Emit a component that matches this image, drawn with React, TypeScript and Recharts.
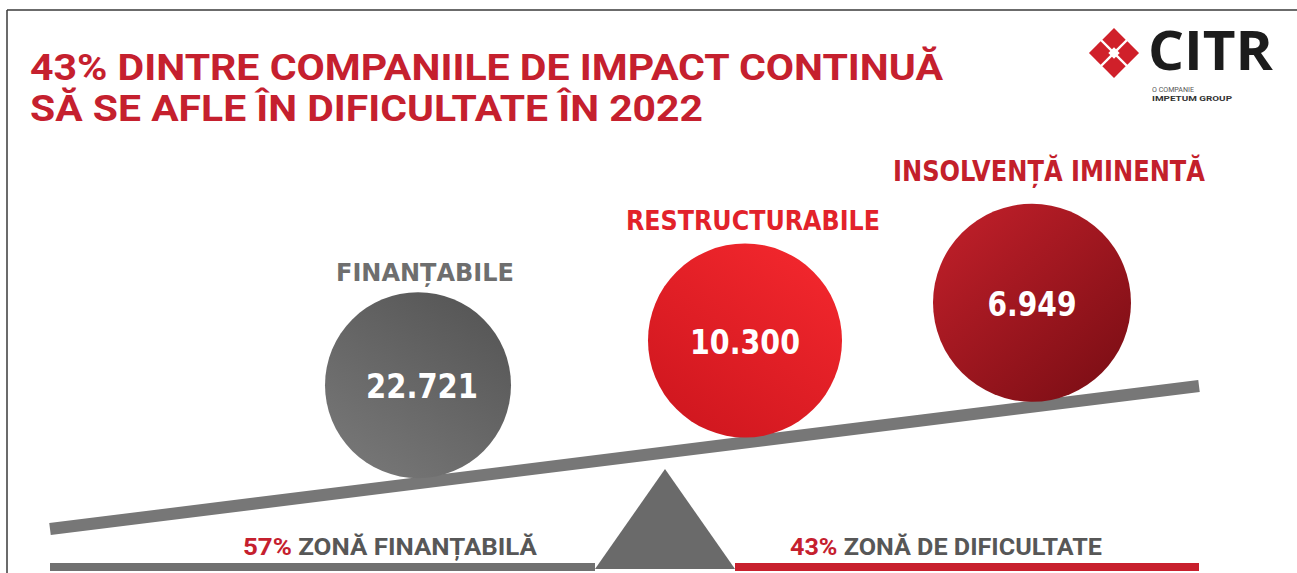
import React from 'react';
import { ComposedChart, XAxis, YAxis, Scatter, ReferenceLine } from 'recharts';

// ---------- data ----------
const TITLE_LINES = ['43% DINTRE COMPANIILE DE IMPACT CONTINUĂ', 'SĂ SE AFLE ÎN DIFICULTATE ÎN 2022'];
const categories = ['FINANȚABILE', 'RESTRUCTURABILE', 'INSOLVENȚĂ IMINENTĂ'];
const companies = [22721, 10300, 6949];
const zoneShares = [57, 43];
const zoneNames = ['ZONĂ FINANȚABILĂ', 'ZONĂ DE DIFICULTATE'];
const LOGO_NAME = 'CITR';
const LOGO_SUB = ['O COMPANIE', 'IMPETUM GROUP'];

// ---------- layout / style ----------
const W = 1297;
const H = 573;
const BEAM = { x1: 50, y1: 529, x2: 1199, y2: 386, width: 12, color: '#777777' };
const beamY = (x: number) => BEAM.y1 + ((BEAM.y2 - BEAM.y1) * (x - BEAM.x1)) / (BEAM.x2 - BEAM.x1);
const GROUND = { y: 567, width: 8, leftStart: 50, leftEnd: 595, rightStart: 735, rightEnd: 1199 };
const FULCRUM = { x: 665, y: 469, halfBase: 70, baseY: 569, color: '#6a6a6a' };

const BALLS = [
  { cx: 418, r: 93, grad: ['#585858', '#767676'], dir: [0.8, 0.1, 0.2, 0.95], labelColor: '#6e6e6e', labelSize: 25, labelDx: 7, labelGap: 11, labelWidth: 178, numDx: 4, numWidth: 112 },
  { cx: 745, r: 97, grad: ['#f0262c', '#d0171f'], dir: [0.8, 0.1, 0.2, 0.95], labelColor: '#e2222a', labelSize: 27, labelDx: 8, labelGap: 14, labelWidth: 254, numDx: 0, numWidth: 110 },
  { cx: 1032, r: 99, grad: ['#bb1e28', '#7c0e15'], dir: [0.15, 0.1, 0.9, 0.95], labelColor: '#c3202b', labelSize: 29, labelDx: 17, labelGap: 23, labelWidth: 312, numDx: 0, numWidth: 89 },
];
const ZONE_LABELS = [
  { cx: 390, width: 294 },
  { cx: 946, width: 312 },
];
const ZONE_BASELINE = 555;
const RED = '#c5202e';
const GRAY_TEXT = '#575757';

const fmt = (v: number) => String(v).replace(/\B(?=(\d{3})+(?!\d))/g, '.');

const ballData = categories.map((name, i) => {
  const L = BALLS[i];
  return { x: L.cx, y: beamY(L.cx) - BEAM.width / 2 - L.r + 1, name, value: companies[i], idx: i };
});
const fulcrumData = [{ x: FULCRUM.x, y: FULCRUM.y }];

const BallShape = (props: any) => {
  const { cx, cy, payload } = props;
  const L = BALLS[payload.idx];
  const gid = `ballGrad${payload.idx}`;
  return (
    <g>
      <defs>
        <linearGradient id={gid} x1={L.dir[0]} y1={L.dir[1]} x2={L.dir[2]} y2={L.dir[3]}>
          <stop offset="0%" stopColor={L.grad[0]} />
          <stop offset="100%" stopColor={L.grad[1]} />
        </linearGradient>
      </defs>
      <circle cx={cx} cy={cy} r={L.r} fill={`url(#${gid})`} />
      <text
        x={cx + L.numDx}
        y={cy + 13}
        textAnchor="middle"
        fill="#ffffff"
        fontFamily="'DejaVu Sans', sans-serif"
        fontWeight={700}
        fontSize={34}
        textLength={L.numWidth}
        lengthAdjust="spacingAndGlyphs"
      >
        {fmt(payload.value)}
      </text>
      <text
        x={cx + L.labelDx}
        y={cy - L.r - L.labelGap}
        textAnchor="middle"
        fill={L.labelColor}
        fontFamily="'DejaVu Sans', sans-serif"
        fontWeight={700}
        fontSize={L.labelSize}
        textLength={L.labelWidth}
        lengthAdjust="spacingAndGlyphs"
      >
        {payload.name}
      </text>
    </g>
  );
};

const FulcrumShape = (props: any) => {
  const { cx, cy } = props;
  const pts = `${cx},${cy} ${cx - FULCRUM.halfBase},${FULCRUM.baseY} ${cx + FULCRUM.halfBase},${FULCRUM.baseY}`;
  return <polygon points={pts} fill={FULCRUM.color} />;
};

const Logo = () => {
  const cx = 1114;
  const cy = 53;
  const s = 16.5;
  const g = 2.4;
  return (
    <g>
      <g transform={`translate(${cx},${cy}) rotate(45)`}>
        <rect x={-s - g / 2} y={-s - g / 2} width={s} height={s} fill="#d0202a" />
        <rect x={g / 2} y={-s - g / 2} width={s} height={s} fill="#d0202a" />
        <rect x={-s - g / 2} y={g / 2} width={s} height={s} fill="#d0202a" />
        <rect x={g / 2} y={g / 2} width={s} height={s} fill="#d0202a" />
        <rect x={-4} y={-4} width={8} height={8} fill="#ffffff" />
      </g>
      <text x={1148} y={70} fill="#1c1c1c" fontFamily="'Open Sans', sans-serif" fontWeight={700} fontSize={54} textLength={125} lengthAdjust="spacingAndGlyphs">
        {LOGO_NAME}
      </text>
      <text x={1152} y={92} fill="#555" fontFamily="'Roboto', sans-serif" fontSize={7.5} textLength={42} lengthAdjust="spacingAndGlyphs">
        {LOGO_SUB[0]}
      </text>
      <text x={1152} y={101} fill="#333" fontFamily="'Roboto', sans-serif" fontWeight={700} fontSize={8} textLength={80} lengthAdjust="spacingAndGlyphs">
        {LOGO_SUB[1]}
      </text>
    </g>
  );
};

export default function App() {
  return (
    <div style={{ position: 'absolute', left: 0, top: 0, width: W, height: H, background: '#ffffff' }}>
      <ComposedChart width={W} height={H} margin={{ top: 0, right: 0, bottom: 0, left: 0 }}>
        <XAxis type="number" dataKey="x" domain={[0, W]} hide allowDataOverflow />
        <YAxis type="number" dataKey="y" domain={[0, H]} reversed hide allowDataOverflow />

        {/* frame */}
        <ReferenceLine segment={[{ x: 7, y: 10 }, { x: W, y: 10 }]} stroke="#3a3a3a" strokeWidth={1.5} ifOverflow="visible" />
        <ReferenceLine segment={[{ x: 7, y: 10 }, { x: 7, y: H }]} stroke="#3a3a3a" strokeWidth={1.5} ifOverflow="visible" />

        {/* ground */}
        <ReferenceLine segment={[{ x: GROUND.leftStart, y: GROUND.y }, { x: GROUND.leftEnd, y: GROUND.y }]} stroke="#707070" strokeWidth={GROUND.width} ifOverflow="visible" />
        <ReferenceLine segment={[{ x: GROUND.rightStart, y: GROUND.y }, { x: GROUND.rightEnd, y: GROUND.y }]} stroke="#c8202d" strokeWidth={GROUND.width} ifOverflow="visible" />

        {/* beam */}
        <ReferenceLine segment={[{ x: BEAM.x1, y: BEAM.y1 }, { x: BEAM.x2, y: BEAM.y2 }]} stroke={BEAM.color} strokeWidth={BEAM.width} ifOverflow="visible" />

        <Scatter data={fulcrumData} dataKey="y" shape={FulcrumShape} isAnimationActive={false} />
        <Scatter data={ballData} dataKey="y" shape={BallShape} isAnimationActive={false} />

        {/* title */}
        <text x={30} y={80} fill={RED} fontFamily="'Roboto', sans-serif" fontWeight={700} fontSize={37} textLength={913} lengthAdjust="spacingAndGlyphs">
          {TITLE_LINES[0]}
        </text>
        <text x={30} y={121} fill={RED} fontFamily="'Roboto', sans-serif" fontWeight={700} fontSize={37} textLength={673} lengthAdjust="spacingAndGlyphs">
          {TITLE_LINES[1]}
        </text>

        <Logo />

        {/* zone labels */}
        {ZONE_LABELS.map((z, i) => (
          <text
            key={i}
            x={z.cx}
            y={ZONE_BASELINE}
            textAnchor="middle"
            fontFamily="'Roboto', sans-serif"
            fontWeight={700}
            fontSize={24}
            textLength={z.width}
            lengthAdjust="spacingAndGlyphs"
          >
            <tspan fill={RED}>{`${zoneShares[i]}%`}</tspan>
            <tspan fill={GRAY_TEXT}>{` ${zoneNames[i]}`}</tspan>
          </text>
        ))}
      </ComposedChart>
    </div>
  );
}
